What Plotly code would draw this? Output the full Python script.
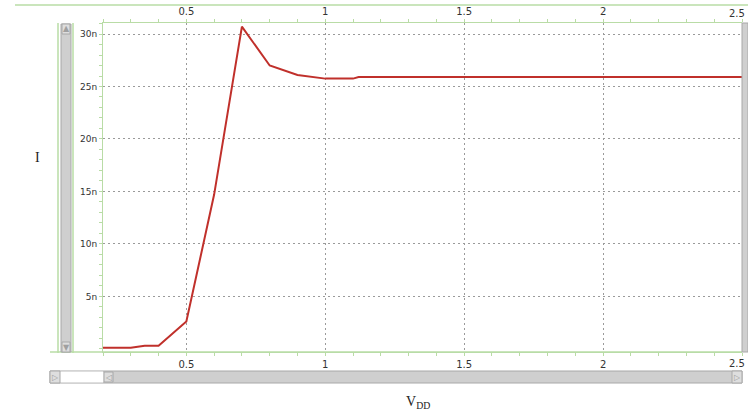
import plotly.graph_objects as go

vdd = [0.2, 0.3, 0.35, 0.4, 0.5, 0.6, 0.7, 0.8, 0.9, 1.0, 1.1, 1.12, 1.5, 2.0, 2.5]
current_n = [0.1, 0.1, 0.3, 0.3, 2.6, 14.7, 30.7, 27.0, 26.1, 25.75, 25.75, 25.9, 25.9, 25.9, 25.9]
current = [v * 1e-9 for v in current_n]

x_ticks = [0.5, 1, 1.5, 2, 2.5]
x_ticklabels = ["0.5", "1", "1.5", "2", "2.5"]
y_ticks = [5e-9, 10e-9, 15e-9, 20e-9, 25e-9, 30e-9]
y_ticklabels = ["5n", "10n", "15n", "20n", "25n", "30n"]

GREEN = "#b9dca6"
GRID = "#9a9a9a"
W, H = 748, 414
L, R, T, B = 103, 742, 23, 352

fig = go.Figure()
fig.add_trace(go.Scatter(x=vdd, y=current, mode="lines",
                         line=dict(color="#c0302b", width=2), showlegend=False))
fig.add_trace(go.Scatter(x=vdd, y=current, mode="lines", xaxis="x2",
                         line=dict(color="rgba(0,0,0,0)", width=0), showlegend=False,
                         hoverinfo="skip"))

axis_common = dict(
    range=[0.2, 2.5], tickvals=x_ticks, ticktext=x_ticklabels,
    ticks="outside", ticklen=3, tickcolor=GREEN,
    minor=dict(dtick=0.1, tick0=0, ticks="outside", ticklen=3, tickcolor=GREEN, showgrid=False),
    showline=True, linecolor=GREEN, linewidth=1,
    tickfont=dict(family="DejaVu Sans", size=10, color="#333"),
    zeroline=False, automargin=False,
)
fig.update_layout(
    width=W, height=H,
    margin=dict(l=L, r=W - R, t=T, b=H - B, autoexpand=False),
    paper_bgcolor="white", plot_bgcolor="white",
    xaxis=dict(**axis_common, showgrid=True, gridcolor=GRID, griddash="2px,3px", gridwidth=1),
    xaxis2=dict(**axis_common, overlaying="x", side="top", showgrid=False),
    yaxis=dict(range=[-0.3e-9, 31.05e-9], tickvals=y_ticks, ticktext=y_ticklabels,
               ticks="outside", ticklen=3, tickcolor=GREEN,
               minor=dict(dtick=1e-9, tick0=0, ticks="outside", ticklen=3, tickcolor=GREEN, showgrid=False),
               showline=True, linecolor=GREEN, linewidth=1,
               showgrid=True, gridcolor=GRID, griddash="2px,3px", gridwidth=1,
               tickfont=dict(family="DejaVu Sans", size=9, color="#333"), zeroline=False,
               automargin=False),
    font=dict(family="DejaVu Sans"),
)

def px(x):
    return (x - L) / (R - L)

def py(y):
    return (B - y) / (B - T)

shapes = []
def rect(x0, y0, x1, y1, fill, line=None):
    shapes.append(dict(type="rect", xref="paper", yref="paper",
                       x0=px(x0), x1=px(x1), y0=py(y1), y1=py(y0),
                       fillcolor=fill, line=dict(color=line or fill, width=1), layer="above"))

def hline(x0, x1, y, color=GREEN):
    shapes.append(dict(type="line", xref="paper", yref="paper",
                       x0=px(x0), x1=px(x1), y0=py(y), y1=py(y),
                       line=dict(color=color, width=1.5)))

def vline(x, y0, y1, color=GREEN):
    shapes.append(dict(type="line", xref="paper", yref="paper",
                       x0=px(x), x1=px(x), y0=py(y0), y1=py(y1),
                       line=dict(color=color, width=1.5)))

# top frame line
hline(15, 748, 5)
hline(50, 742, 352)
# left scrollbar
vline(58, 23, 353)
vline(73, 23, 353)
rect(61, 24, 71, 352, "#cfcfcf", "#a8a8a8")
rect(62, 24, 70, 34, "#dedede", "#a8a8a8")
rect(62, 342, 70, 352, "#dedede", "#a8a8a8")
# right scrollbar
rect(742, 23, 748, 352, "#cfcfcf", "#a8a8a8")
# bottom scrollbar
rect(50, 371, 742, 383, "#cfcfcf", "#a8a8a8")
rect(60, 372, 103, 382, "white", "white")
rect(50, 371, 60, 383, "#dedede", "#a8a8a8")
rect(732, 371, 742, 383, "#dedede", "#a8a8a8")
rect(104, 372, 113, 382, "#dedede", "#a8a8a8")

def ann(x, y, text, size, color, family="DejaVu Sans", xanchor="center"):
    return dict(x=px(x), y=py(y), xref="paper", yref="paper", text=text, showarrow=False,
                xanchor=xanchor, yanchor="middle",
                font=dict(family=family, size=size, color=color))

annotations = [
    ann(37, 157, "I", 14, "#222", "Liberation Serif"),
    ann(418, 402, "V<sub>DD</sub>", 14, "#222", "Liberation Serif"),
    ann(747, 13, x_ticklabels[-1], 10, "#333", xanchor="right"),
    ann(747, 364, x_ticklabels[-1], 10, "#333", xanchor="right"),
    ann(66, 29, "▲", 8, "#a0a0a0"),
    ann(66, 347, "▼", 8, "#a0a0a0"),
    ann(55, 377, "▷", 8, "#a0a0a0"),
    ann(108.5, 377, "◁", 8, "#a0a0a0"),
    ann(737, 377, "▷", 8, "#a0a0a0"),
]
fig.update_layout(shapes=shapes, annotations=annotations)

fig.write_html("out.html", config={"displayModeBar": False})

with open("out.html", "r", encoding="utf-8") as f:
    html = f.read()
html = html.replace("<body>", '<body style="margin:0;padding:0;overflow:hidden">', 1)
html = html.replace("<head>", "<head><style>html,body{margin:0;padding:0;}</style>", 1)
with open("out.html", "w", encoding="utf-8") as f:
    f.write(html)
